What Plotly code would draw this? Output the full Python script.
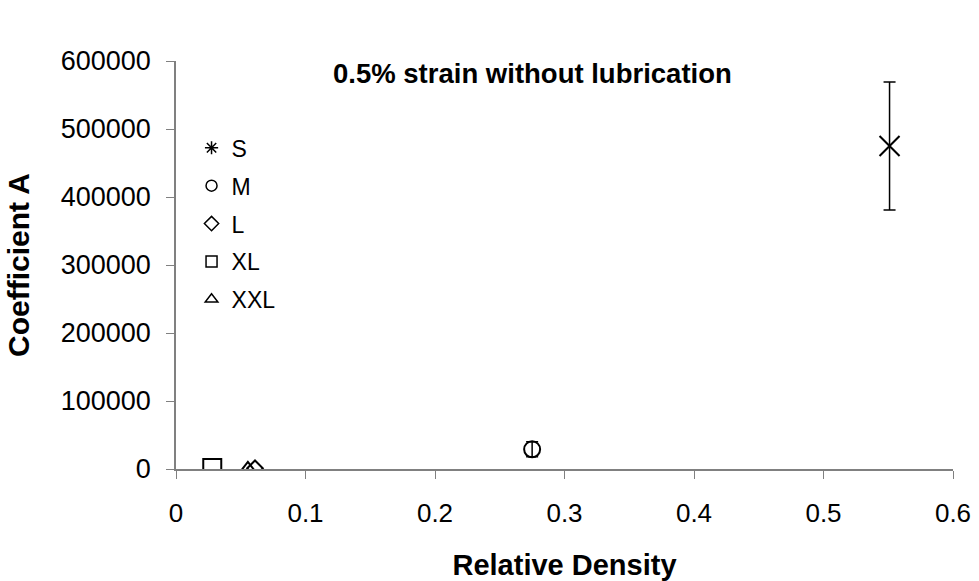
import plotly.graph_objects as go

names = ["S", "M", "L", "XL", "XXL"]
rel_density = [0.551, 0.275, 0.061, 0.028, 0.0555]
coef_a = [475000, 29000, 1000, 1500, 1000]
err = [94000, 11000, 0, 0, 0]
symbols = ["x-thin-open", "circle-open", "diamond-open", "square-open", "triangle-up-open"]
legend_symbols = ["asterisk-open", "circle-open", "diamond-open", "square-open", "triangle-up-open"]
sizes = [20, 16, 12, 18, 13]

fig = go.Figure()
for n, x, y, e, s, sz in zip(names, rel_density, coef_a, err, symbols, sizes):
    fig.add_trace(go.Scatter(
        x=[x], y=[y], mode="markers", name=n, showlegend=False,
        marker=dict(symbol=s, size=sz, color="black", line=dict(color="black", width=2)),
        error_y=dict(type="data", array=[e], visible=e > 0, color="black", thickness=1.5, width=6),
    ))
# legend entries
for n, s in zip(names, legend_symbols):
    fig.add_trace(go.Scatter(
        x=[None], y=[None], mode="markers", name=n, legendgroup=n,
        marker=dict(symbol=s, size=11, color="black", line=dict(color="black", width=1.5)),
    ))

font = "Liberation Sans, Arial, sans-serif"
fig.update_layout(
    width=979, height=581,
    margin=dict(l=176, r=26, t=61, b=112),
    paper_bgcolor="white", plot_bgcolor="white",
    font=dict(family=font, size=26, color="black"),
    showlegend=True,
    legend=dict(x=0.02, y=0.84, xanchor="left", yanchor="top",
                font=dict(size=23, family=font), bgcolor="rgba(0,0,0,0)",
                tracegroupgap=5, traceorder="grouped"),
    annotations=[dict(text="<b>0.5% strain without lubrication</b>", x=0.275, y=582000,
                      xref="x", yref="y", yanchor="middle", xanchor="center", showarrow=False,
                      font=dict(size=27.5, family=font))],
)
fig.update_xaxes(range=[0, 0.6], dtick=0.1, showgrid=False, zeroline=False, automargin=False,
                 showline=True, linecolor="#808080", linewidth=1.5, ticks="outside", ticklen=8,
                 tickcolor="#808080", title=dict(text="<b>Relative Density</b>", font=dict(size=29), standoff=28),
                 tickfont=dict(size=26), ticklabelstandoff=12)
fig.update_yaxes(range=[0, 600000], dtick=100000, tickformat="d", showgrid=False, zeroline=False, automargin=False,
                 showline=True, linecolor="#808080", linewidth=1.5, ticks="outside", ticklen=8,
                 tickcolor="#808080", title=dict(text="<b>Coefficient A</b>", font=dict(size=30), standoff=22),
                 tickfont=dict(size=27), ticklabelstandoff=10)
fig.write_html("out.html")
